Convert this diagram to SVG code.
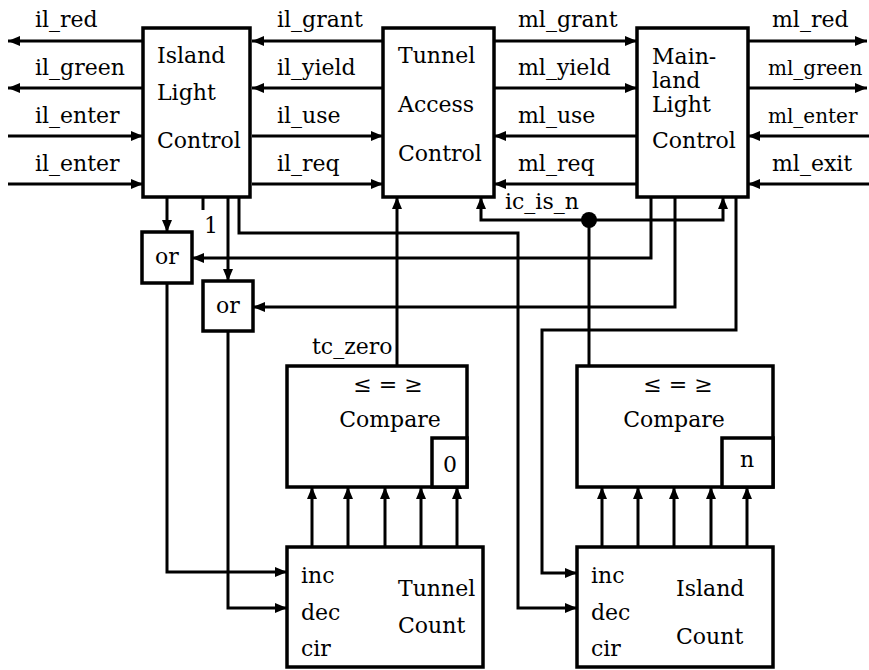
<svg xmlns="http://www.w3.org/2000/svg" width="869" height="670" viewBox="0 0 869 670">
<defs>
<marker id="arr" markerUnits="userSpaceOnUse" markerWidth="13" markerHeight="11" refX="12" refY="5" orient="auto">
<path d="M0,0 L12,5 L0,10 z" fill="#000"/>
</marker>
<style>
.w{fill:none;stroke:#000;stroke-width:3}
.a{marker-end:url(#arr)}
.b{fill:#fff;stroke:#000;stroke-width:3.5}
text{font-family:'DejaVu Serif',serif;font-size:22px;fill:#000}
.m{text-anchor:middle}
.s{font-size:20px}
</style>
</defs>
<rect width="869" height="670" fill="#fff"/>
<g id="connectors">
<path class="w a" d="M143,41 H8"/>
<path class="w a" d="M143,88 H8"/>
<path class="w a" d="M8,136 H143"/>
<path class="w a" d="M8,184 H143"/>
<path class="w a" d="M383,41 H252"/>
<path class="w a" d="M383,88 H252"/>
<path class="w a" d="M252,136 H383"/>
<path class="w a" d="M252,184 H383"/>
<path class="w a" d="M494,41 H637"/>
<path class="w a" d="M494,88 H637"/>
<path class="w a" d="M637,136 H494"/>
<path class="w a" d="M637,184 H494"/>
<path class="w a" d="M748,41 H867"/>
<path class="w a" d="M748,88 H867"/>
<path class="w a" d="M869,136 H748"/>
<path class="w a" d="M869,184 H748"/>
<path class="w a" d="M167,197 V232"/>
<path class="w" d="M203,197 V210"/>
<path class="w a" d="M228,197 V281"/>
<path class="w a" d="M239,197 V233 H518 V608 H577"/>
<path class="w a" d="M397,365 V197"/>
<path class="w a" d="M589,220 H481 V197"/>
<path class="w a" d="M589,220 H723 V197"/>
<path class="w" d="M589,220 V365"/>
<circle cx="589" cy="220" r="8" fill="#000"/>
<path class="w a" d="M651,197 V258 H192"/>
<path class="w a" d="M675,197 V307 H253"/>
<path class="w a" d="M736,197 V330 H542 V573 H577"/>
<path class="w a" d="M167,283 V572 H287"/>
<path class="w a" d="M228,331 V608 H287"/>
<path class="w a" d="M312,547 V487"/>
<path class="w a" d="M348,547 V487"/>
<path class="w a" d="M385,547 V487"/>
<path class="w a" d="M421,547 V487"/>
<path class="w a" d="M457,547 V487"/>
<path class="w a" d="M602,547 V487"/>
<path class="w a" d="M638,547 V487"/>
<path class="w a" d="M674,547 V487"/>
<path class="w a" d="M711,547 V487"/>
<path class="w a" d="M747,547 V487"/>
</g>
<g id="labels">
<text x="35" y="27">il_red</text>
<text x="35" y="75">il_green</text>
<text x="35" y="123">il_enter</text>
<text x="35" y="171">il_enter</text>
<text x="277" y="27">il_grant</text>
<text x="277" y="75">il_yield</text>
<text x="277" y="123">il_use</text>
<text x="277" y="171">il_req</text>
<text x="518" y="27">ml_grant</text>
<text x="518" y="75">ml_yield</text>
<text x="518" y="123">ml_use</text>
<text x="518" y="171">ml_req</text>
<text x="772" y="27">ml_red</text>
<text class="s" x="768" y="75">ml_green</text>
<text class="s" x="768" y="123">ml_enter</text>
<text x="772" y="171">ml_exit</text>
<text x="505" y="209">ic_is_n</text>
<text x="204" y="233">1</text>
<text x="312" y="354">tc_zero</text>
</g>
<g id="island-light-control">
<rect class="b" x="143" y="28" width="107" height="169"/>
<text x="157" y="63">Island</text>
<text x="157" y="100">Light</text>
<text x="157" y="148">Control</text>
</g>
<g id="tunnel-access-control">
<rect class="b" x="383" y="28" width="111" height="169"/>
<text x="398" y="63">Tunnel</text>
<text x="398" y="112">Access</text>
<text x="398" y="161">Control</text>
</g>
<g id="mainland-light-control">
<rect class="b" x="637" y="28" width="111" height="169"/>
<text x="652" y="64">Main-</text>
<text x="652" y="88">land</text>
<text x="652" y="112">Light</text>
<text x="652" y="148">Control</text>
</g>
<g id="or1">
<rect class="b" x="142" y="232" width="50" height="51"/>
<text class="m" x="167" y="264">or</text>
</g>
<g id="or2">
<rect class="b" x="203" y="281" width="50" height="50"/>
<text class="m" x="228" y="313">or</text>
</g>
<g id="compare-tunnel">
<rect class="b" x="287" y="366" width="180" height="121"/>
<rect class="b" x="432" y="438" width="35" height="49"/>
<text class="m" x="388" y="392">≤ = ≥</text>
<text class="m" x="390" y="427">Compare</text>
<text class="m" x="450" y="472">0</text>
</g>
<g id="compare-island">
<rect class="b" x="577" y="366" width="196" height="121"/>
<rect class="b" x="722" y="438" width="51" height="49"/>
<text class="m" x="678" y="392">≤ = ≥</text>
<text class="m" x="674" y="427">Compare</text>
<text class="m" x="747" y="467">n</text>
</g>
<g id="tunnel-count">
<rect class="b" x="287" y="547" width="196" height="120"/>
<text x="301" y="583">inc</text>
<text x="301" y="620">dec</text>
<text x="301" y="656">cir</text>
<text x="398" y="596">Tunnel</text>
<text x="398" y="633">Count</text>
</g>
<g id="island-count">
<rect class="b" x="577" y="547" width="196" height="120"/>
<text x="591" y="583">inc</text>
<text x="591" y="620">dec</text>
<text x="591" y="656">cir</text>
<text x="676" y="596">Island</text>
<text x="676" y="644">Count</text>
</g>
</svg>
